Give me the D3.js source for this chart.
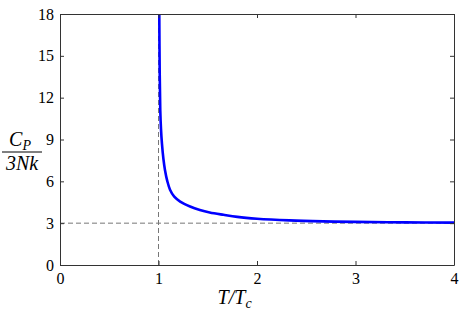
<!DOCTYPE html>
<html>
<head>
<meta charset="utf-8">
<script src="https://cdn.jsdelivr.net/npm/d3@7"></script>
<style>
  body { margin: 0; background: #fff; }
  svg text { font-family: "Liberation Serif", "DejaVu Serif", serif !important; }
</style>
</head>
<body>
<script>
// values
const tRatio = [1.008, 1.012, 1.018, 1.025, 1.035, 1.05, 1.066, 1.09, 1.117, 1.16, 1.22, 1.32, 1.42, 1.52, 1.66, 1.8, 2.0, 2.33, 2.67, 3.0, 3.5, 4.0];
const cp = [18, 14, 11.1, 9.8, 8.7, 7.6, 6.8, 6.0, 5.4, 4.9, 4.55, 4.2, 3.95, 3.77, 3.6, 3.45, 3.32, 3.2, 3.13, 3.09, 3.06, 3.04];
const xTicks = [0, 1, 2, 3, 4];
const yTicks = [0, 3, 6, 9, 12, 15, 18];
const tc = 1;       // vertical dashed line
const limit = 3;    // horizontal dashed line

const margin = { top: 14, right: 9, bottom: 46, left: 60 };
const width = 463 - margin.left - margin.right;
const height = 311 - margin.top - margin.bottom;

const svg = d3.select("body")
    .append("svg")
    .attr("width", width + margin.left + margin.right)
    .attr("height", height + margin.top + margin.bottom)
    .append("g")
    .attr("transform", `translate(${margin.left},${margin.top})`);

const x = d3.scaleLinear().domain([0, 4]).range([0, width]);
const y = d3.scaleLinear().domain([0, 18]).range([height, 0]);

const data = tRatio.map((t, i) => ({ t: t, c: cp[i] }));

// dashed guide lines
svg.append("line")
    .attr("x1", x(0)).attr("x2", x(4))
    .attr("y1", y(limit)).attr("y2", y(limit))
    .attr("stroke", "#777").attr("stroke-width", 1)
    .attr("stroke-dasharray", "5,3");

svg.append("line")
    .attr("x1", x(tc)).attr("x2", x(tc))
    .attr("y1", y(0)).attr("y2", y(18))
    .attr("stroke", "#777").attr("stroke-width", 1)
    .attr("stroke-dasharray", "5,3");

// curve
const line = d3.line()
    .x(d => x(d.t))
    .y(d => y(d.c))
    .curve(d3.curveCatmullRom.alpha(0.5));

svg.append("path")
    .datum(data)
    .attr("fill", "none")
    .attr("stroke", "#0000ff")
    .attr("stroke-width", 2.6)
    .attr("d", line);

// axes, ticks pointing inward on all four sides
const axisStyle = g => {
    g.attr("font-size", 16);
    g.select(".domain").attr("stroke", "#333");
    g.selectAll(".tick line").attr("stroke", "#333");
    g.selectAll(".tick text").attr("fill", "#000");
};

svg.append("g")
    .attr("transform", `translate(0,${height})`)
    .call(d3.axisBottom(x).tickValues(xTicks).tickFormat(d3.format("d")).tickSizeInner(-4).tickSizeOuter(0).tickPadding(8))
    .call(axisStyle);

svg.append("g")
    .call(d3.axisLeft(y).tickValues(yTicks).tickFormat(d3.format("d")).tickSizeInner(-4).tickSizeOuter(0).tickPadding(6))
    .call(axisStyle);

svg.append("g")
    .call(d3.axisTop(x).tickValues(xTicks).tickFormat("").tickSizeInner(-4).tickSizeOuter(0))
    .call(axisStyle);

svg.append("g")
    .attr("transform", `translate(${width},0)`)
    .call(d3.axisRight(y).tickValues(yTicks).tickFormat("").tickSizeInner(-4).tickSizeOuter(0))
    .call(axisStyle);

// x label
const xl = svg.append("text")
    .attr("font-style", "italic")
    .attr("x", x(1.6))
    .attr("y", height + 39)
    .attr("font-size", 20);
xl.append("tspan").text("T/T");
xl.append("tspan").attr("font-size", 14).attr("dy", 4).text("c");

// y label as a fraction
const yl = svg.append("g")
    .attr("transform", `translate(${22 - margin.left},${152 - margin.top})`)
    .attr("font-style", "italic");

const num = yl.append("text")
    .attr("text-anchor", "middle")
    .attr("x", -2)
    .attr("y", -6)
    .attr("font-size", 20);
num.append("tspan").text("C");
num.append("tspan").attr("font-size", 14).attr("dy", 4).text("P");

yl.append("line")
    .attr("x1", -20).attr("x2", 20)
    .attr("stroke", "#000").attr("stroke-width", 1);

yl.append("text")
    .attr("text-anchor", "middle")
    .attr("y", 18)
    .attr("font-size", 20)
    .text("3Nk");
</script>
</body>
</html>
